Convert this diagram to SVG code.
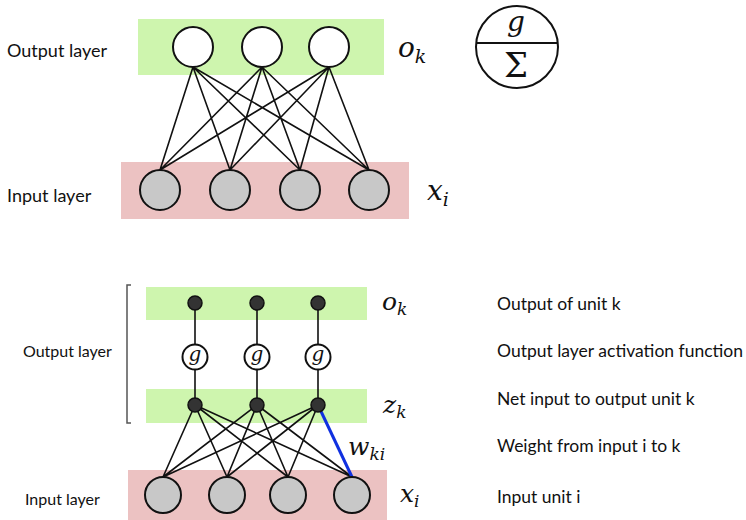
<svg xmlns="http://www.w3.org/2000/svg" width="746" height="520" viewBox="0 0 746 520">
<style>
.lbl{font-family:"Lato","Liberation Sans",sans-serif;fill:#111;}
.math{font-family:"DejaVu Serif","Liberation Serif",serif;font-style:italic;fill:#111;}
.sym{font-family:"DejaVu Serif","Liberation Serif",serif;fill:#111;}
.out{fill:#fff;stroke:#111;stroke-width:2;}
.inp{fill:#c8c8c8;stroke:#111;stroke-width:2;}
.dot{fill:#333;stroke:#111;stroke-width:1.5;}
.green{fill:#cef5ae;}
.pink{fill:#ecc2c2;}
.edge{stroke:#111;stroke-width:1.6;fill:none;}
</style>
<rect width="746" height="520" fill="#fff"/>
<!-- top network -->
<rect class="green" x="138" y="19" width="246" height="56"/>
<rect class="pink" x="121" y="162" width="288" height="57"/>
<g id="connectors-top">
<path class="edge" d="M193,67L160,170M193,67L230,170M193,67L300,170M193,67L369,170M262,67L160,170M262,67L230,170M262,67L300,170M262,67L369,170M329,67L160,170M329,67L230,170M329,67L300,170M329,67L369,170"/>
</g>
<g id="top-out1"><circle class="out" cx="193" cy="47" r="20"/></g>
<g id="top-out2"><circle class="out" cx="262" cy="47" r="20"/></g>
<g id="top-out3"><circle class="out" cx="329" cy="47" r="20"/></g>
<g id="top-in1"><circle class="inp" cx="160" cy="190" r="20"/></g>
<g id="top-in2"><circle class="inp" cx="230" cy="190" r="20"/></g>
<g id="top-in3"><circle class="inp" cx="300" cy="190" r="20"/></g>
<g id="top-in4"><circle class="inp" cx="369" cy="190" r="20"/></g>
<text class="lbl" x="7" y="57" font-size="18">Output layer</text>
<text class="lbl" x="7" y="202" font-size="18">Input layer</text>
<text class="math" x="398" y="57" font-size="28">o<tspan font-size="19" dy="6">k</tspan></text>
<text class="math" x="427" y="200" font-size="28">x<tspan font-size="19" dy="6">i</tspan></text>
<g id="symbol">
<circle cx="517" cy="47" r="41" fill="#fff" stroke="#111" stroke-width="2"/>
<line x1="476" y1="43" x2="558" y2="43" stroke="#111" stroke-width="2"/>
<text class="math" x="516" y="31" font-size="28" text-anchor="middle">g</text>
<text class="sym" x="516" y="77" font-size="34" text-anchor="middle">Σ</text>
</g>
<!-- bottom network -->
<rect class="green" x="146" y="287" width="221" height="33"/>
<rect class="green" x="146" y="389" width="221" height="34"/>
<rect class="pink" x="128" y="470" width="259" height="50"/>
<path d="M131,285H127V423H131" fill="none" stroke="#555" stroke-width="1.5"/>
<g id="connectors-bottom">
<path class="edge" d="M195,303V344.5M195,369.5V405M257,303V344.5M257,369.5V405M318,303V344.5M318,369.5V405"/>
<path class="edge" d="M195,405L163,477M195,405L227,477M195,405L288,477M195,405L352,477M257,405L163,477M257,405L227,477M257,405L288,477M257,405L352,477M318,405L163,477M318,405L227,477M318,405L288,477"/>
<path d="M318,405L352,477" stroke="#1030e0" stroke-width="3" fill="none"/>
</g>
<g id="bot-o1"><circle class="dot" cx="195" cy="303" r="7"/></g>
<g id="bot-o2"><circle class="dot" cx="257" cy="303" r="7"/></g>
<g id="bot-o3"><circle class="dot" cx="318" cy="303" r="7"/></g>
<g id="bot-g1"><circle class="out" cx="195" cy="357" r="12.5"/><text class="math" x="195" y="361" font-size="20" text-anchor="middle">g</text></g>
<g id="bot-g2"><circle class="out" cx="257" cy="357" r="12.5"/><text class="math" x="257" y="361" font-size="20" text-anchor="middle">g</text></g>
<g id="bot-g3"><circle class="out" cx="318" cy="357" r="12.5"/><text class="math" x="318" y="361" font-size="20" text-anchor="middle">g</text></g>
<g id="bot-z1"><circle class="dot" cx="195" cy="405" r="7"/></g>
<g id="bot-z2"><circle class="dot" cx="257" cy="405" r="7"/></g>
<g id="bot-z3"><circle class="dot" cx="318" cy="405" r="7"/></g>
<g id="bot-in1"><circle class="inp" cx="163" cy="495" r="18"/></g>
<g id="bot-in2"><circle class="inp" cx="227" cy="495" r="18"/></g>
<g id="bot-in3"><circle class="inp" cx="288" cy="495" r="18"/></g>
<g id="bot-in4"><circle class="inp" cx="352" cy="495" r="18"/></g>
<text class="lbl" x="23" y="357" font-size="16">Output layer</text>
<text class="lbl" x="25" y="505" font-size="16">Input layer</text>
<text class="math" x="382" y="310" font-size="25">o<tspan font-size="17" dy="5">k</tspan></text>
<text class="math" x="383" y="413" font-size="25">z<tspan font-size="17" dy="5">k</tspan></text>
<text class="math" x="348" y="455" font-size="25">w<tspan font-size="17" dy="5">ki</tspan></text>
<text class="math" x="400" y="502" font-size="25">x<tspan font-size="17" dy="5">i</tspan></text>
<text class="lbl" x="497" y="310" font-size="17.5">Output of unit k</text>
<text class="lbl" x="497" y="357" font-size="17.5">Output layer activation function</text>
<text class="lbl" x="497" y="405" font-size="17.5">Net input to output unit k</text>
<text class="lbl" x="497" y="452" font-size="17.5">Weight from input i to k</text>
<text class="lbl" x="497" y="503" font-size="17.5">Input unit i</text>
</svg>
